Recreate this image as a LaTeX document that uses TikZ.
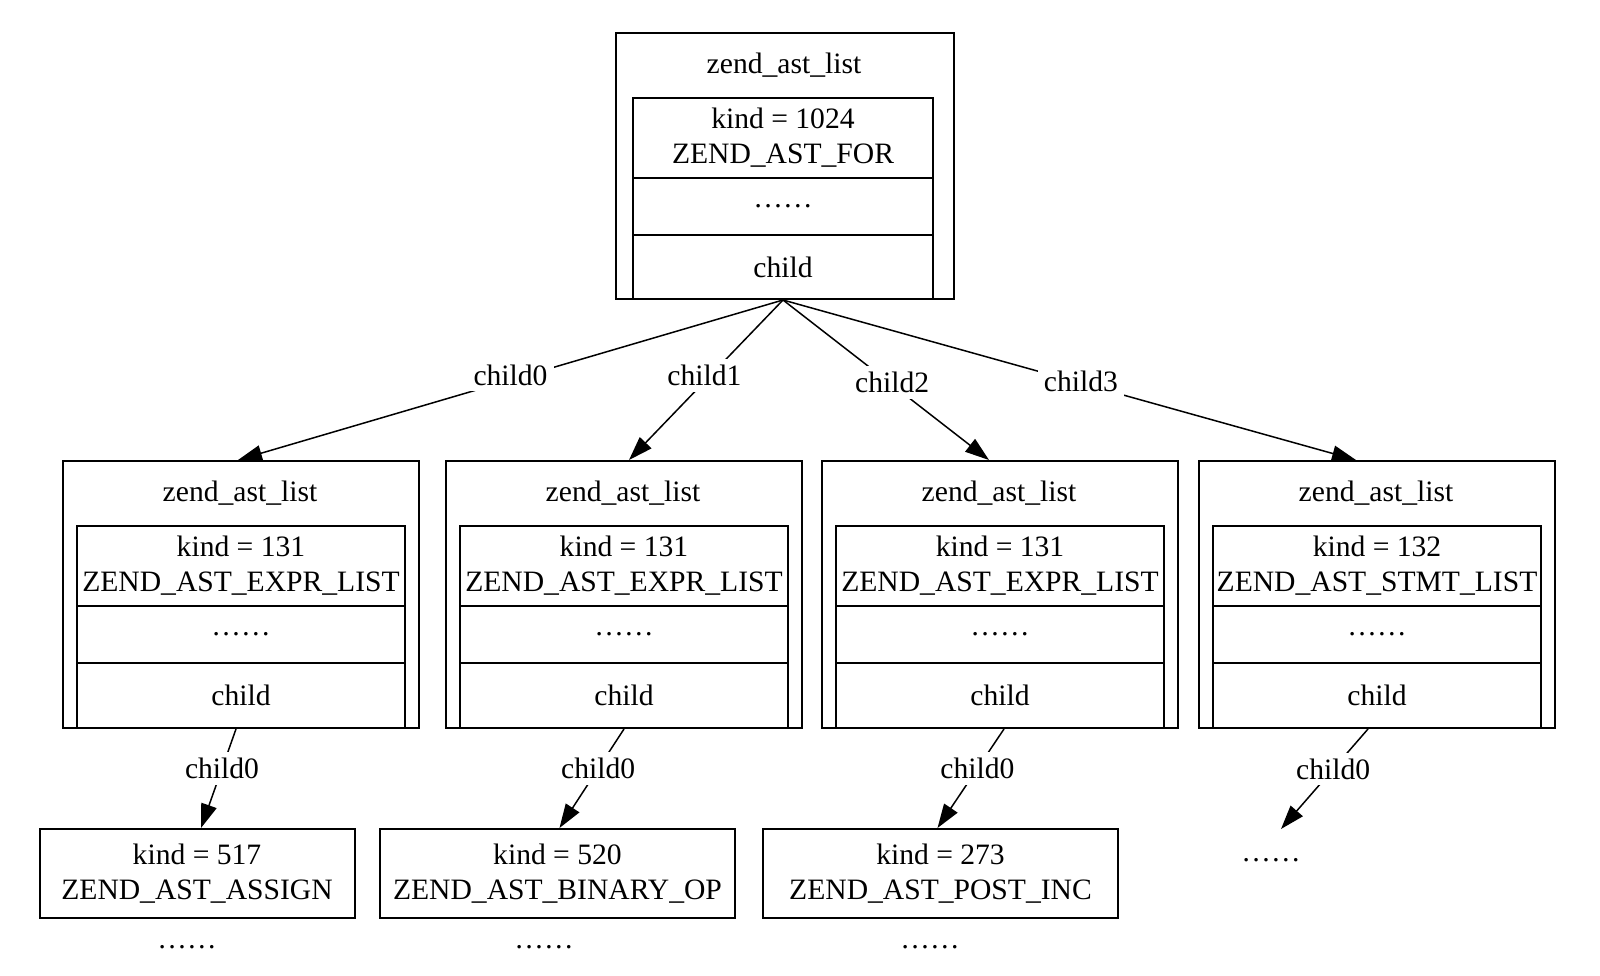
\documentclass[tikz,border=0pt]{standalone}
\usepackage{fontspec}
\setmainfont{Liberation Serif}
\usetikzlibrary{arrows.meta}

\tikzset{
  box/.style={draw, line width=2pt, inner sep=0pt, align=center},
  outer/.style={box, anchor=north west, minimum width=#1, minimum height=267pt},
  inner/.style={box, anchor=north west, minimum width=328pt, minimum height=#1},
  topinner/.style={box, anchor=north west, minimum width=300pt, minimum height=#1},
  opbox/.style={box, minimum width=#1, minimum height=89pt},
  lbl/.style={fill=white, inner sep=6pt},
  edge/.style={line width=1.5pt, -{Triangle[length=24pt,width=16pt]}}
}

\begin{document}
\begin{tikzpicture}[x=1pt, y=-1pt, font=\fontsize{29.6}{35}\selectfont]
\useasboundingbox (0,0) rectangle (1600,976);

% root list
\node[box, anchor=north west, minimum width=338pt, minimum height=266pt] (root) at (615,32) {};
\node (roottitle) at (784,65) {zend\_ast\_list};
\node[topinner=80pt] (rootkind) at (632,97) {kind = 1024\\ZEND\_AST\_FOR};
\node[topinner=57pt] (rootdots) at (632,177) {……};
\node[topinner=64pt] (rootchild) at (632,234) {child};

% second row
\node[outer=356pt] (list1) at (62,460) {};
\node (title1) at (240,493) {zend\_ast\_list};
\node[inner=80pt] (kind1) at (76,525) {kind = 131\\ZEND\_AST\_EXPR\_LIST};
\node[inner=57pt] (dots1) at (76,605) {……};
\node[inner=65pt] (child1) at (76,662) {child};

\node[outer=356pt] (list2) at (445,460) {};
\node (title2) at (623,493) {zend\_ast\_list};
\node[inner=80pt] (kind2) at (459,525) {kind = 131\\ZEND\_AST\_EXPR\_LIST};
\node[inner=57pt] (dots2) at (459,605) {……};
\node[inner=65pt] (child2) at (459,662) {child};

\node[outer=356pt] (list3) at (821,460) {};
\node (title3) at (999,493) {zend\_ast\_list};
\node[inner=80pt] (kind3) at (835,525) {kind = 131\\ZEND\_AST\_EXPR\_LIST};
\node[inner=57pt] (dots3) at (835,605) {……};
\node[inner=65pt] (child3) at (835,662) {child};

\node[outer=356pt] (list4) at (1198,460) {};
\node (title4) at (1376,493) {zend\_ast\_list};
\node[inner=80pt] (kind4) at (1212,525) {kind = 132\\ZEND\_AST\_STMT\_LIST};
\node[inner=57pt] (dots4) at (1212,605) {……};
\node[inner=65pt] (child4) at (1212,662) {child};

% third row
\node[opbox=315pt] (op1) at (197,873.5) {kind = 517\\ZEND\_AST\_ASSIGN};
\node[opbox=355pt] (op2) at (557.5,873.5) {kind = 520\\ZEND\_AST\_BINARY\_OP};
\node[opbox=355pt] (op3) at (940.5,873.5) {kind = 273\\ZEND\_AST\_POST\_INC};

\node (more1) at (187,947) {……};
\node (more2) at (544,947) {……};
\node (more3) at (930,947) {……};
\node (more4) at (1271,860) {……};
\coordinate (end4) at (1281,829);

% edges
\draw[edge] (rootchild.south) -- node[lbl, pos=0.5, yshift=5pt] {child0} ([xshift=-3pt]list1.north);
\draw[edge] (rootchild.south) -- node[lbl, pos=0.51, yshift=6pt] {child1} ([xshift=5pt]list2.north);
\draw[edge] (rootchild.south) -- node[lbl, pos=0.53, yshift=2pt] {child2} ([xshift=-11pt]list3.north);
\draw[edge] (rootchild.south) -- node[lbl, pos=0.52, yshift=2pt] {child3} ([xshift=-21pt]list4.north);

\draw[edge] ([xshift=-5pt]child1.south) -- node[lbl, pos=0.4] {child0} ([xshift=4pt]op1.north);
\draw[edge] (child2.south) -- node[lbl, pos=0.4] {child0} ([xshift=2pt]op2.north);
\draw[edge] ([xshift=4pt]child3.south) -- node[lbl, pos=0.4] {child0} ([xshift=-3pt]op3.north);
\draw[edge] ([xshift=-9pt]child4.south) -- node[lbl, pos=0.4] {child0} (end4);
\end{tikzpicture}
\end{document}
